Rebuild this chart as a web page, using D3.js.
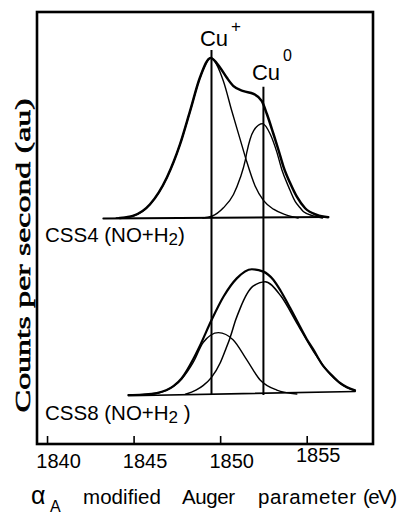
<!DOCTYPE html>
<html>
<head>
<meta charset="utf-8">
<script src="https://cdn.jsdelivr.net/npm/d3@7"></script>
<style>
  html, body { margin: 0; padding: 0; background: #fff; }
  svg { display: block; }
  text { fill: #000; }
</style>
</head>
<body>
<svg id="chart" width="402" height="515"></svg>
<script>
// ---------- data (eV, counts in arbitrary units) ----------
const eVTicks = [1840, 1845, 1850, 1855];
const peakNames = ["Cu", "Cu"];
const peakCharges = ["+", "0"];
const peakPositions = [1849.5, 1852.5];
const peakLineTops = [105, 82];          // top of marker lines (upper spectrum units)
const peakLabelLevels = [107.5, 86];     // label baseline (upper spectrum units)
const sampleNames = ["CSS4", "CSS8"];
const sampleTreatments = [["(NO+H", "2", ")"], ["(NO+H", "2", " )"]];

const topBaseline = [[1843.25, -0.3], [1856.25, 0.6]];
const topEnvelope = [
  [1844.2, 0], [1845.0, 1.5], [1845.95, 8.6], [1846.93, 25.5], [1847.68, 46],
  [1848.26, 66.8], [1848.84, 88], [1849.45, 100], [1850.0, 93.9], [1850.39, 87.6],
  [1850.77, 82.4], [1851.35, 79.3], [1851.93, 77.6], [1852.41, 73], [1852.7, 65],
  [1853.08, 52.5], [1853.37, 42.5], [1853.66, 32], [1854.05, 21.7], [1854.43, 13.3],
  [1854.91, 6.1], [1855.59, 1.9], [1856.24, 0.5]
];
const topCuPlus = [
  [1844.0, 0], [1844.79, 0.8], [1845.95, 8.4], [1846.93, 25.3], [1847.68, 45.9],
  [1848.26, 66.6], [1848.84, 87.8], [1849.45, 100], [1850.19, 85.5], [1850.67, 67],
  [1851.16, 49], [1851.5, 36.5], [1852.02, 20], [1852.5, 11], [1853.08, 5.5],
  [1853.8, 2], [1854.5, 0]
];
const topCu0 = [
  [1849.0, 0], [1849.52, 1.1], [1850.19, 6.4], [1850.77, 14.7], [1851.16, 25.1],
  [1851.45, 36], [1851.54, 41], [1851.93, 54.5], [1852.45, 59], [1852.89, 52.5],
  [1853.28, 41], [1853.57, 30], [1853.95, 19.6], [1854.34, 10.2], [1854.62, 6.4],
  [1854.82, 3.9], [1855.39, 1.3], [1855.9, 0]
];

const bottomBaseline = [[1844.7, -0.5], [1857.8, 2.2]];
const bottomEnvelope = [
  [1844.7, 0], [1845.5, 0.3], [1846.34, 1.2], [1847.3, 5.5], [1847.78, 10.5],
  [1848.45, 22.5], [1848.84, 31], [1849.51, 47], [1850.19, 61.4], [1850.96, 72.9],
  [1851.83, 78.6], [1852.5, 77.1], [1853.07, 72], [1853.5, 65], [1854.04, 54.5],
  [1854.43, 46.5], [1855.0, 35], [1855.38, 28.5], [1855.96, 18], [1856.35, 13.5],
  [1856.93, 7.5], [1857.31, 5], [1857.79, 3]
];
const bottomCuPlus = [
  [1845.76, 0], [1846.92, 3.1], [1847.78, 10], [1848.45, 20.5], [1849.03, 33],
  [1849.9, 39], [1850.76, 34.4], [1851.54, 21.9], [1852.31, 9.4], [1853.27, 3.1],
  [1854.43, 0.6]
];
const bottomCu0 = [
  [1848.0, 0.5], [1848.6, 3], [1849.03, 6], [1849.5, 11], [1850.0, 20],
  [1850.3, 28], [1850.58, 36], [1850.9, 47], [1851.15, 54], [1851.54, 63],
  [1851.9, 68], [1852.6, 70.8], [1853.5, 62], [1854.43, 45], [1855.38, 27.5],
  [1856.35, 13], [1857.31, 4.7], [1857.79, 2.7]
];

// ---------- layout ----------
const svg = d3.select("#chart");
const frame = { left: 37, right: 373, top: 12, bottom: 444 };

const x = d3.scaleLinear().domain([1839.42, 1858.83]).range([frame.left, frame.right]);
const yTop = d3.scaleLinear().domain([0, 100]).range([218, 58]);
const yBot = d3.scaleLinear().domain([0, 100]).range([395, 235]);

const sans = "'Liberation Sans', Arial, Helvetica, sans-serif";
const serif = "'Liberation Serif', 'Times New Roman', serif";

// frame
svg.append("rect")
  .attr("x", frame.left).attr("y", frame.top)
  .attr("width", frame.right - frame.left).attr("height", frame.bottom - frame.top)
  .attr("fill", "none").attr("stroke", "#000").attr("stroke-width", 2.6);

// x axis (inward ticks)
const axis = d3.axisBottom(x).tickValues(eVTicks).tickSize(-8).tickPadding(10)
  .tickFormat(d3.format("d"));
const gx = svg.append("g").attr("transform", `translate(0,${frame.bottom})`).call(axis);
gx.select(".domain").remove();
gx.selectAll(".tick line").attr("stroke", "#000").attr("stroke-width", 1.6);
gx.selectAll(".tick text")
  .attr("font-family", sans).attr("font-size", 20).attr("fill", "#000")
  .attr("dx", 11)
  .attr("y", d => d === 1855 ? 4 : 10);

// axis titles
const xt = svg.append("text").attr("font-family", sans).attr("font-size", 20.5).attr("y", 504);
xt.append("tspan").attr("x", 31).attr("font-size", 25).text("α");
xt.append("tspan").attr("x", 50).attr("dy", 8).attr("font-size", 16).text("A");
xt.append("tspan").attr("x", 83).attr("dy", -8).attr("textLength", 78).text("modified");
xt.append("tspan").attr("x", 182).attr("textLength", 53).text("Auger");
xt.append("tspan").attr("x", 258).attr("textLength", 98).text("parameter");
xt.append("tspan").attr("x", 363).attr("textLength", 34).text("(eV)");

svg.append("text")
  .attr("transform", "translate(30,255.5) rotate(-90)")
  .attr("text-anchor", "middle")
  .attr("font-family", serif).attr("font-size", 21.5)
  .attr("stroke", "#000").attr("stroke-width", 0.6)
  .attr("textLength", 314).attr("lengthAdjust", "spacingAndGlyphs")
  .text("Counts per second (au)");

// curves
const lineTop = d3.line().x(d => x(d[0])).y(d => yTop(d[1])).curve(d3.curveMonotoneX);
const lineBot = d3.line().x(d => x(d[0])).y(d => yBot(d[1])).curve(d3.curveMonotoneX);

const plotCurve = (data, gen, w) => svg.append("path").datum(data)
  .attr("d", gen).attr("fill", "none").attr("stroke", "#000")
  .attr("stroke-width", w).attr("stroke-linejoin", "round").attr("stroke-linecap", "round");

plotCurve(topBaseline, lineTop, 1.9);
plotCurve(topCuPlus, lineTop, 1.4);
plotCurve(topCu0, lineTop, 1.4);
plotCurve(topEnvelope, lineTop, 2.5);

plotCurve(bottomBaseline, lineBot, 1.6);
plotCurve(bottomCuPlus, lineBot, 1.4);
plotCurve(bottomCu0, lineBot, 1.5);
plotCurve(bottomEnvelope, lineBot, 2.2);

// peak marker lines + labels
peakPositions.forEach((p, i) => {
  svg.append("line")
    .attr("x1", x(p)).attr("x2", x(p))
    .attr("y1", yTop(peakLineTops[i])).attr("y2", yBot(0))
    .attr("stroke", "#000").attr("stroke-width", 2);
  const t = svg.append("text").attr("font-family", sans).attr("font-size", 22)
    .attr("x", x(p) - 11.5).attr("y", yTop(peakLabelLevels[i]));
  t.append("tspan").text(peakNames[i]);
  t.append("tspan").attr("dx", 3).attr("dy", i === 0 ? -14 : -19)
    .attr("font-size", i === 0 ? 17 : 16).text(peakCharges[i]);
});

// sample labels
const sampleY = [yTop(0) + 23.5, yBot(0) + 25];
sampleNames.forEach((n, i) => {
  const t = svg.append("text").attr("font-family", sans).attr("font-size", 20.5)
    .attr("x", frame.left + 8).attr("y", sampleY[i]);
  t.append("tspan").text(n + " " + sampleTreatments[i][0]);
  t.append("tspan").attr("dy", 3).attr("font-size", 17).text(sampleTreatments[i][1]);
  t.append("tspan").attr("dy", -3).attr("style", "white-space:pre").text(sampleTreatments[i][2]);
});
</script>
</body>
</html>
